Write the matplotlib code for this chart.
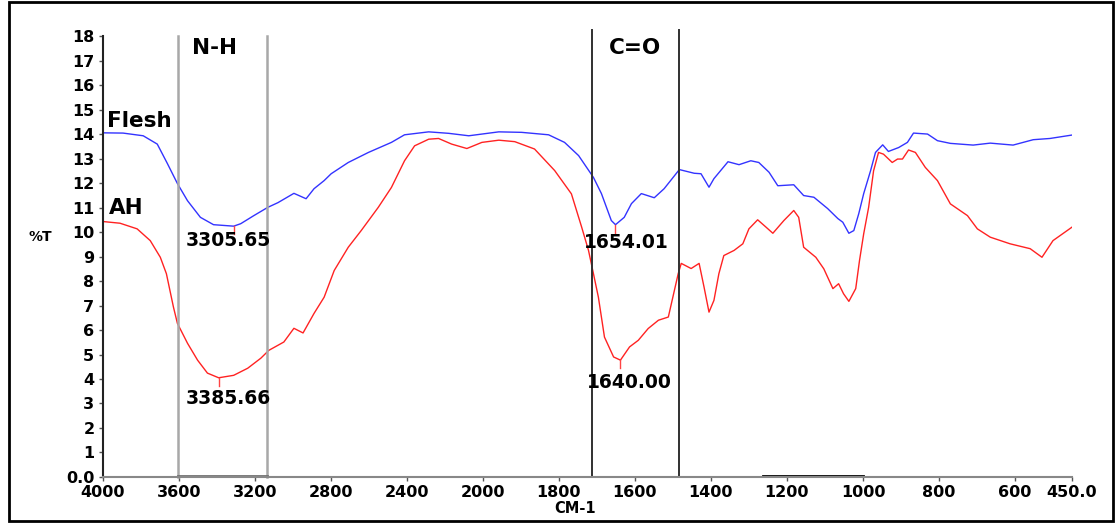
import numpy as np
import matplotlib
matplotlib.use("Agg")
import matplotlib.pyplot as plt
from matplotlib.patches import Rectangle

# ---- data (wavenumber cm-1, %T) ----
flesh_wn = [4000, 3893, 3787, 3713, 3660, 3607, 3554, 3486, 3417, 3311, 3274, 3205, 3131, 3078,
            2994, 2930, 2888, 2835, 2798, 2708, 2602, 2481, 2412, 2285, 2180, 2074, 1958, 1898,
            1827, 1785, 1748, 1709, 1688, 1662, 1651, 1628, 1609, 1583, 1549, 1523, 1483, 1444,
            1426, 1405, 1392, 1355, 1326, 1295, 1274, 1247, 1224, 1182, 1156, 1129, 1093, 1066,
            1053, 1037, 1024, 1011, 998, 980, 967, 948, 933, 906, 883, 867, 830, 804, 770, 710,
            665, 605, 552, 508, 450]
flesh_t = [14.05, 14.04, 13.93, 13.59, 12.8, 11.98, 11.28, 10.6, 10.3, 10.24, 10.34, 10.67, 11.01,
           11.2, 11.58, 11.36, 11.77, 12.1, 12.38, 12.84, 13.25, 13.66, 13.97, 14.09, 14.03, 13.93,
           14.09, 14.07, 13.97, 13.66, 13.12, 12.23, 11.57, 10.47, 10.3, 10.6, 11.16, 11.57, 11.4,
           11.77, 12.55, 12.4, 12.38, 11.83, 12.18, 12.87, 12.75, 12.91, 12.84, 12.44, 11.89,
           11.93, 11.49, 11.42, 10.96, 10.55, 10.4, 9.95, 10.06, 10.75, 11.57, 12.5, 13.25, 13.56,
           13.29, 13.45, 13.66, 14.04, 14.0, 13.73, 13.62, 13.55, 13.63, 13.55, 13.77, 13.82, 13.96]

ah_wn = [4000, 3909, 3819, 3750, 3697, 3665, 3628, 3607, 3554, 3501, 3449, 3390, 3311, 3237, 3168,
         3126, 3047, 2994, 2946, 2888, 2835, 2782, 2708, 2640, 2550, 2481, 2412, 2359, 2285, 2233,
         2164, 2084, 2005, 1958, 1916, 1864, 1811, 1767, 1740, 1722, 1709, 1696, 1680, 1656, 1638,
         1614, 1591, 1565, 1538, 1512, 1486, 1478, 1452, 1431, 1418, 1405, 1392, 1379, 1366, 1339,
         1316, 1300, 1277, 1255, 1237, 1208, 1182, 1169, 1156, 1124, 1103, 1079, 1064, 1051, 1037,
         1019, 1009, 998, 985, 972, 959, 946, 923, 909, 896, 880, 862, 836, 804, 770, 725, 699,
         665, 613, 560, 529, 500, 450]
ah_t = [10.43, 10.36, 10.13, 9.65, 8.97, 8.3, 6.94, 6.27, 5.46, 4.77, 4.24, 4.05, 4.15, 4.44, 4.85,
        5.17, 5.51, 6.07, 5.88, 6.68, 7.34, 8.43, 9.38, 10.06, 11.01, 11.82, 12.91, 13.52, 13.79,
        13.82, 13.59, 13.41, 13.66, 13.75, 13.69, 13.39, 12.51, 11.56, 10.2, 9.25, 8.3, 7.34, 5.71,
        4.9, 4.77, 5.31, 5.58, 6.06, 6.4, 6.53, 8.3, 8.72, 8.51, 8.72, 7.75, 6.73, 7.21, 8.3, 9.04,
        9.25, 9.52, 10.13, 10.5, 10.2, 9.95, 10.47, 10.88, 10.6, 9.38, 8.97, 8.5, 7.69, 7.89, 7.48,
        7.17, 7.69, 8.84, 9.93, 11.01, 12.5, 13.25, 13.18, 12.84, 12.98, 12.98, 13.35, 13.25, 12.64,
        12.1, 11.15, 10.67, 10.13, 9.79, 9.52, 9.32, 8.97, 9.65, 10.2]

xticks = [4000, 3600, 3200, 2800, 2400, 2000, 1800, 1600, 1400, 1200, 1000, 800, 600, 450]
xticklabels = ["4000", "3600", "3200", "2800", "2400", "2000", "1800", "1600", "1400",
               "1200", "1000", "800", "600", "450.0"]
yticks = list(range(0, 19))
yticklabels = ["0.0"] + [str(i) for i in range(1, 19)]

nh_band = [3605, 3135]
co_band = [1712, 1484]
peaks = [  # (wavenumber, %T at peak, label, label x, label y)
    (3311, 10.24, "3305.65", 3337, 9.65),
    (3390, 4.05, "3385.66", 3340, 3.22),
    (1651, 10.30, "1654.01", 1622, 9.58),
    (1638, 4.77, "1640.00", 1614, 3.84),
]

# ---- scale: 4000-2000 compressed by factor 2 ----
bp_w = [450, 2000, 4000]
bp_u = [0, 1550, 2550]


def fwd(w):
    return np.interp(w, bp_w, bp_u)


def inv(u):
    return np.interp(u, bp_u, bp_w)


fig = plt.figure(figsize=(11.19, 5.23), dpi=100)
ax = fig.add_axes([0.0918, 0.088, 0.8662, 0.843])
ax.set_xscale("function", functions=(fwd, inv))
ax.set_xlim(4000, 450)
ax.set_ylim(0, 18)

ax.plot(flesh_wn, flesh_t, color="#3333ff", lw=1.0)
ax.plot(ah_wn, ah_t, color="#ff2222", lw=1.0)

for w in nh_band:
    ax.plot([w, w], [0, 18], color="#a8a8a8", lw=1.8, clip_on=False)
ax.plot(nh_band, [0.02, 0.02], color="#707070", lw=2.0, clip_on=False)
for w in co_band:
    ax.plot([w, w], [0, 18.25], color="#303030", lw=1.4, clip_on=False)
ax.plot([1262, 1000], [0.05, 0.05], color="black", lw=2.0, clip_on=False)

for w, t, lab, lx, ly in peaks:
    ax.plot([w, w], [t, t - 0.32], color="#ff4444", lw=1.0)
    ax.text(lx, ly, lab, ha="center", va="center", fontsize=13.5, fontweight="bold",
            color="black")

ax.text(3410, 17.5, "N-H", ha="center", va="center", fontsize=15.5, fontweight="bold")
ax.text(1600, 17.5, "C=O", ha="center", va="center", fontsize=15.5, fontweight="bold")
ax.text(3975, 14.55, "Flesh", ha="left", va="center", fontsize=15.5, fontweight="bold")
ax.text(3965, 11.0, "AH", ha="left", va="center", fontsize=15.5, fontweight="bold")

ax.set_xticks(xticks)
ax.set_xticklabels(xticklabels)
ax.set_yticks(yticks)
ax.set_yticklabels(yticklabels)
ax.tick_params(axis="both", which="both", labelsize=11.5, length=3, width=1.0, color="#555555")
ax.tick_params(axis="x", pad=3)
ax.tick_params(axis="y", pad=3)
for lbl in ax.get_xticklabels() + ax.get_yticklabels():
    lbl.set_fontweight("bold")
ax.minorticks_off()

for s in ("top", "right"):
    ax.spines[s].set_visible(False)
ax.spines["left"].set_color("#222222")
ax.spines["left"].set_linewidth(1.5)
ax.spines["bottom"].set_color("#888888")
ax.spines["bottom"].set_linewidth(1.5)

fig.text(0.5135, 0.028, "CM-1", ha="center", va="center", fontsize=10.5, fontweight="bold")
fig.text(0.036, 0.547, "%T", ha="center", va="center", fontsize=10, fontweight="bold")

fig.patches.append(Rectangle((9 / 1119, 2 / 523), 1104 / 1119, 519 / 523, transform=fig.transFigure,
                             fill=False, edgecolor="black", lw=2.0))

fig.savefig("out.png", dpi=100, facecolor="white")
